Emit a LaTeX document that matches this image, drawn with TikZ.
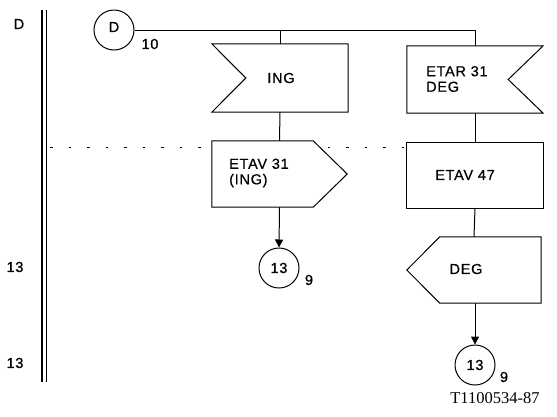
\documentclass[tikz,border=0pt]{standalone}
\usepackage{fontspec}
\setmainfont[LetterSpace=5,FakeBold=0.6]{Liberation Sans}
\newfontfamily\idfont{Liberation Serif}
\usetikzlibrary{arrows.meta,calc}
\begin{document}
\begin{tikzpicture}[x=1pt,y=-1pt,
  every node/.style={font=\fontsize{14.5}{15.5}\selectfont},
  shapebox/.style={draw=none,inner sep=0pt,rectangle},
  outl/.style={line width=1pt,fill=white},
  conn/.style={line width=1pt},
  arr/.style={line width=1pt,-{Triangle[length=8pt,width=8pt]}},
  conncirc/.style={circle,draw,line width=1pt,minimum size=40pt,inner sep=0pt},
  lbl/.style={inner sep=0pt,align=left},
]
\useasboundingbox (0,0) rectangle (557,416);
% left double bar
\draw[line width=1.4pt] (42,10) -- (42,382);
\draw[line width=0.9pt] (46.5,10) -- (46.5,382);
% dashed separator
\draw[line width=0.6pt,dash pattern=on 2.5pt off 16pt] (50,147) -- (545,147);
% left labels
\node[lbl] (lD) at (19,24) {D};
\node[lbl] (l13a) at (15,267) {13};
\node[lbl] (l13b) at (15,363) {13};
% shapes as nodes
\node[conncirc] (dc) at (114,30) {};
\node[lbl] (dct) at (114,27) {D};
\node[lbl] (d10) at (150,44) {10};
\node[shapebox,minimum width=136pt,minimum height=68pt] (ing) at (280,78) {};
\node[shapebox,minimum width=136pt,minimum height=67pt] (etar) at (475,79.5) {};
\node[shapebox,minimum width=135pt,minimum height=66pt] (etav31) at (279.5,174) {};
\node[shapebox,minimum width=136pt,minimum height=65pt] (etav47) at (475,175.5) {};
\node[shapebox,minimum width=134pt,minimum height=66pt] (deg) at (474,270) {};
\node[conncirc] (c1) at (279,268) {};
\node[conncirc] (c2) at (475,365) {};
% connectors
\draw[conn] (dc.east) -| (etar.north);
\draw[conn] (dc.east -| ing.north) -- (ing.north);
\draw[conn] (ing.south) -- (etav31.north);
\draw[conn] (etar.south) -- (etav47.north);
\draw[conn] (etav47.south) -- (deg.north);
\draw[arr] (etav31.south) -- (c1.north);
\draw[arr] (deg.south -| c2.north) -- (c2.north);
% outlines
\draw[outl] (ing.north west) -- (ing.north east) -- (ing.south east) -- (ing.south west) -- ($(ing.west)+(34,0)$) -- cycle;
\draw[outl] (etar.north west) -- (etar.north east) -- ($(etar.east)+(-35,0)$) -- (etar.south east) -- (etar.south west) -- cycle;
\draw[outl] (etav31.north west) -- ($(etav31.north east)+(-34,0)$) -- (etav31.east) -- ($(etav31.south east)+(-34,0)$) -- (etav31.south west) -- cycle;
\draw[outl] (etav47.north west) rectangle (etav47.south east);
\draw[outl] ($(deg.north west)+(33,0)$) -- (deg.north east) -- (deg.south east) -- ($(deg.south west)+(33,0)$) -- (deg.west) -- cycle;
% texts
\node[lbl] (ingt) at (281,78) {ING};
\node[lbl,anchor=west] (etart) at (426,79) {ETAR 31\\DEG};
\node[lbl,anchor=west] (etav31t) at (229,173) {ETAV 31\\(ING)};
\node[lbl] (etav47t) at (465,175) {ETAV 47};
\node[lbl] (degt) at (466,269) {DEG};
\node[lbl] (c1t) at (279,268) {13};
\node[lbl] (c1n) at (309,280) {9};
\node[lbl] (c2t) at (475,365) {13};
\node[lbl] (c2n) at (504,377) {9};
\node[lbl,font=\idfont\fontsize{16.5}{17}\selectfont] (tid) at (495,398) {T1100534-87};
\end{tikzpicture}
\end{document}
